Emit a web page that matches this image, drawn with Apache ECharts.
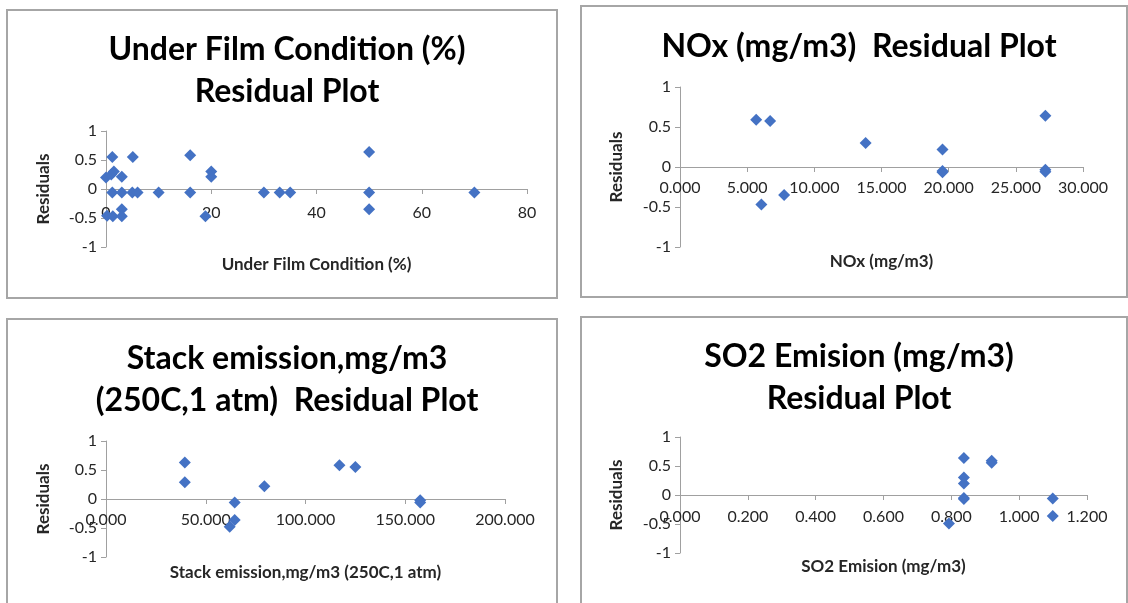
<!DOCTYPE html>
<html lang="en">
  <head>
    <meta charset="UTF-8" />
    <title>Residual Plots</title>
    <script src="https://cdn.jsdelivr.net/npm/echarts@6.0.0/dist/echarts.min.js"></script>
    <style>
      body {
        margin: 0;
        padding: 0;
        background: #fff;
      }
      #main {
        width: 1128px;
        height: 603px;
      }
    </style>
  </head>
  <body>
    <div id="main"></div>

    <script>
      // Under Film Condition (%) vs residuals
      const filmX = [0, 1, 1.5, 1.2, 1.2, 0.2, 1.3, 3, 3, 3, 3, 5.1, 5, 6, 10, 16, 16, 18.9, 20, 20, 30, 33, 35, 50, 50, 50, 70];
      const filmY = [0.2, 0.25, 0.3, 0.55, -0.06, -0.46, -0.47, 0.21, -0.06, -0.35, -0.47, 0.55, -0.06, -0.06, -0.06, 0.58, -0.06, -0.47, 0.3, 0.21, -0.06, -0.06, -0.06, 0.64, -0.06, -0.35, -0.06];

      // NOx (mg/m3) vs residuals
      const noxX = [5.67, 6.71, 6.06, 7.75, 13.82, 19.54, 19.54, 19.54, 27.2, 27.2, 27.2];
      const noxY = [0.59, 0.575, -0.47, -0.35, 0.3, 0.22, -0.05, -0.065, 0.64, -0.035, -0.06];

      // Stack emission, mg/m3 (250C, 1 atm) vs residuals
      const stackX = [39.5, 39.5, 64.5, 64.5, 62, 79.4, 117, 125, 157.5, 157.5];
      const stackY = [0.63, 0.29, -0.06, -0.36, -0.48, 0.22, 0.58, 0.55, -0.02, -0.06];

      // SO2 Emision (mg/m3) vs residuals
      const so2X = [0.837, 0.837, 0.837, 0.837, 0.837, 0.919, 0.919, 1.099, 1.099, 0.793];
      const so2Y = [0.64, 0.3, 0.2, -0.05, -0.07, 0.59, 0.555, -0.06, -0.36, -0.49];

      const panelTitles = [
        "Under Film Condition (%)\nResidual Plot",
        "NOx (mg/m3)  Residual Plot",
        "Stack emission,mg/m3\n(250C,1 atm)  Residual Plot",
        "SO2 Emision (mg/m3)\nResidual Plot",
      ];
      const xNames = [
        "Under Film Condition (%)",
        "NOx (mg/m3)",
        "Stack emission,mg/m3 (250C,1 atm)",
        "SO2 Emision (mg/m3)",
      ];
      const xMax = [80, 30, 200, 1.2];
      const xStep = [20, 5, 50, 0.2];
      const xDecimals = [0, 3, 3, 3];

      const FONT = "Lato, 'Liberation Sans', sans-serif";
      const AXIS_COLOR = "#a0a0a0";
      const TEXT_COLOR = "#262626";
      const POINT_COLOR = "#4472C4";

      function pairs(xs, ys) {
        return xs.map((x, i) => [x, ys[i]]);
      }
      const seriesData = [
        pairs(filmX, filmY),
        pairs(noxX, noxY),
        pairs(stackX, stackY),
        pairs(so2X, so2Y),
      ];

      // panel layout: border box, title centre, plot area, gaps
      const panels = [
        { box: [7, 10, 550, 288], cx: 282, ty: 24, grid: { left: 106, top: 131, width: 421, height: 116 }, nameGap: 67, yGap: 54, labelGap: 16 },
        { box: [581, 6, 546, 291], cx: 854, ty: 21, grid: { left: 680, top: 87, width: 403, height: 160 }, nameGap: 86, yGap: 55, labelGap: 13 },
        { box: [7, 319, 550, 300], cx: 282, ty: 333, grid: { left: 106, top: 441, width: 399, height: 116 }, nameGap: 65, yGap: 54, labelGap: 13 },
        { box: [581, 317, 546, 300], cx: 854, ty: 331, grid: { left: 680, top: 437, width: 407, height: 116 }, nameGap: 63, yGap: 55, labelGap: 14 },
      ];

      const myChart = echarts.init(document.getElementById("main"));

      const option = {
        animation: false,
        textStyle: { fontFamily: FONT },
        title: panels.map((p, i) => ({
          text: panelTitles[i],
          left: p.cx,
          top: p.ty,
          textAlign: "center",
          textStyle: {
            fontFamily: FONT,
            fontSize: 32,
            fontWeight: "bold",
            color: "#000",
            lineHeight: 42,
          },
        })),
        graphic: panels.map((p) => ({
          type: "rect",
          shape: { x: p.box[0], y: p.box[1], width: p.box[2], height: p.box[3] },
          style: { fill: null, stroke: "#a6a6a6", lineWidth: 2 },
          silent: true,
        })),
        grid: panels.map((p) => p.grid),
        xAxis: panels.map((p, i) => ({
          type: "value",
          gridIndex: i,
          min: 0,
          max: xMax[i],
          interval: xStep[i],
          // the axis crosses at residual 0, the middle of the -1..1 range
          offset: -p.grid.height / 2,
          name: xNames[i],
          nameLocation: "middle",
          nameGap: p.nameGap,
          nameTextStyle: { fontFamily: FONT, fontSize: 17, fontWeight: "bold", color: TEXT_COLOR },
          axisLine: { onZero: false, lineStyle: { color: AXIS_COLOR, width: 1 } },
          axisTick: { show: true, length: 5, lineStyle: { color: AXIS_COLOR } },
          splitLine: { show: false },
          axisLabel: {
            fontFamily: FONT,
            fontSize: 16,
            color: TEXT_COLOR,
            margin: p.labelGap,
            formatter: (v) => v.toFixed(xDecimals[i]),
          },
        })),
        yAxis: panels.map((p, i) => ({
          type: "value",
          gridIndex: i,
          min: -1,
          max: 1,
          interval: 0.5,
          name: "Residuals",
          nameLocation: "middle",
          nameGap: p.yGap,
          nameRotate: 90,
          nameTextStyle: { fontFamily: FONT, fontSize: 17, fontWeight: "bold", color: TEXT_COLOR },
          axisLine: { show: true, onZero: false, lineStyle: { color: AXIS_COLOR, width: 1 } },
          axisTick: { show: true, length: 5, lineStyle: { color: AXIS_COLOR } },
          splitLine: { show: false },
          axisLabel: { fontFamily: FONT, fontSize: 16, color: TEXT_COLOR, margin: 9 },
        })),
        series: seriesData.map((d, i) => ({
          type: "scatter",
          xAxisIndex: i,
          yAxisIndex: i,
          data: d,
          symbol: "diamond",
          symbolSize: 12,
          itemStyle: { color: POINT_COLOR, opacity: 1 },
        })),
      };

      myChart.setOption(option);
    </script>
  </body>
</html>
